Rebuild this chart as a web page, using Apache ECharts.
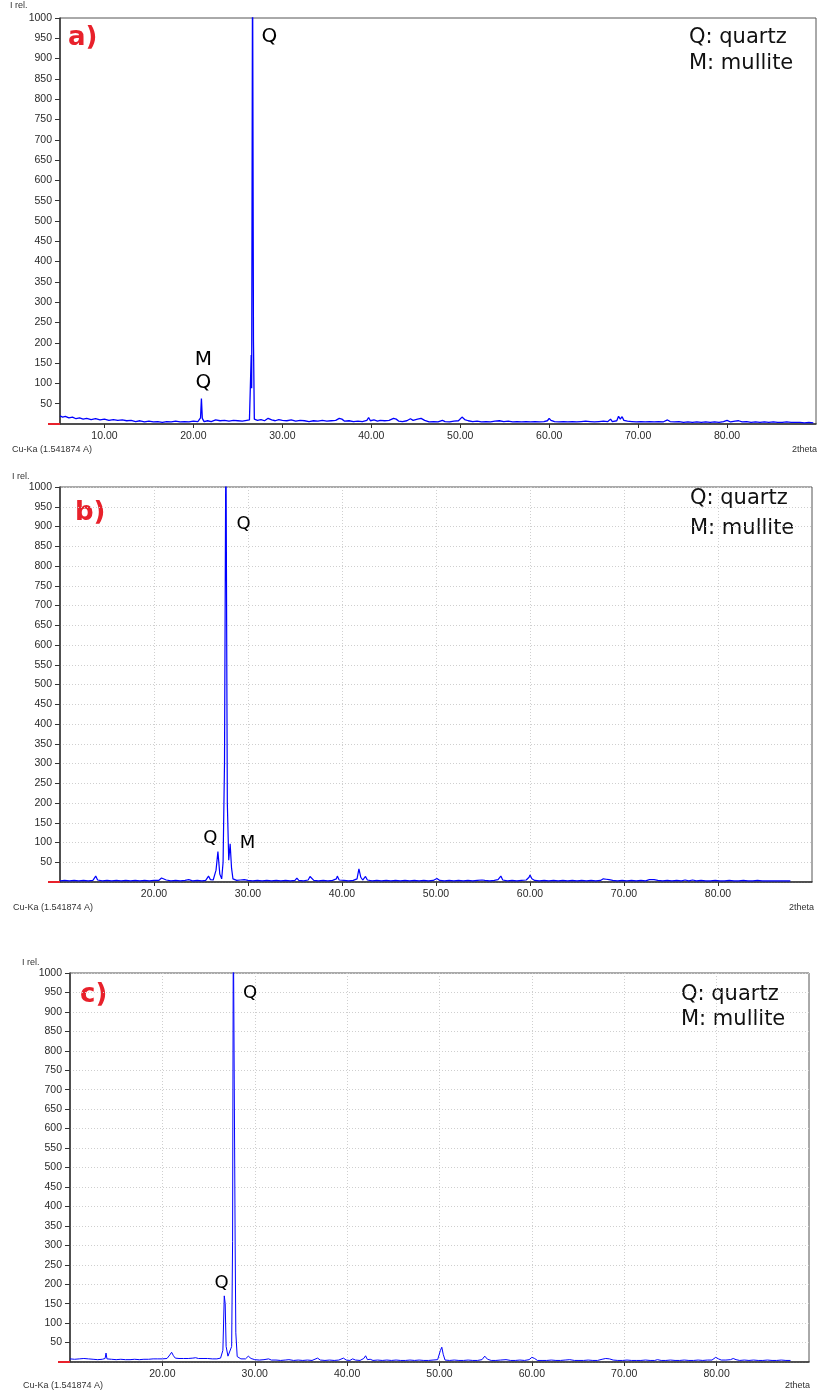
<!DOCTYPE html>
<html><head><meta charset="utf-8">
<script src="https://cdn.jsdelivr.net/npm/echarts@6/dist/echarts.min.js"></script>
<style>html,body{margin:0;padding:0;background:#fff}#c{width:817px;height:1392px}</style>
</head><body><div id="c"></div>
<script>
// ---- data (2theta, intensity) ----
const patternA = [[5.0,20],[5.3,17],[5.6,19],[6.0,15],[6.4,17],[6.8,13],[7.2,15],[7.6,12],[8.0,14],[8.5,11],[9.0,13],[9.5,10],[10.0,12],[10.5,9],[11.0,11],[11.5,9],[12.0,10],[12.5,8],[13.0,9],[13.5,6],[14.0,8],[14.5,5],[15.0,7],[15.5,5],[16.0,6],[16.5,4],[17.0,6],[17.5,5],[18.0,7],[18.5,5],[19.0,6],[19.5,5],[20.0,7],[20.5,6],[20.8,15],[20.9,63],[21.0,14],[21.2,6],[21.6,8],[22.0,6],[22.5,10],[23.0,8],[23.5,9],[24.0,7],[24.5,9],[25.0,8],[25.5,7],[26.0,9],[26.3,10],[26.45,12],[26.5,170],[26.55,88],[26.65,1150],[26.75,205],[26.85,12],[27.2,9],[27.6,11],[28.0,8],[28.4,14],[28.8,10],[29.2,8],[29.6,11],[30.0,9],[30.5,8],[31.0,10],[31.5,7],[32.0,9],[32.5,8],[33.0,6],[33.5,8],[34.0,7],[34.5,9],[35.0,7],[35.5,8],[36.0,9],[36.4,14],[36.7,12],[37.0,7],[37.5,8],[38.0,6],[38.5,7],[39.0,6],[39.5,9],[39.7,16],[39.9,8],[40.3,10],[40.7,7],[41.0,9],[41.5,8],[42.0,9],[42.5,14],[42.8,12],[43.1,7],[43.5,6],[44.0,8],[44.4,13],[44.7,9],[45.2,12],[45.6,14],[46.0,9],[46.5,5],[47.0,6],[47.5,5],[48.0,9],[48.3,6],[48.8,5],[49.3,7],[49.8,8],[50.2,17],[50.5,11],[50.9,8],[51.4,6],[51.9,7],[52.4,5],[52.9,6],[53.4,5],[53.9,7],[54.4,8],[54.9,6],[55.4,7],[55.9,5],[56.4,6],[56.9,5],[57.4,6],[57.9,5],[58.4,6],[58.9,5],[59.4,6],[59.8,8],[60.0,14],[60.2,9],[60.6,6],[61.1,5],[61.6,6],[62.1,5],[62.6,6],[63.1,5],[63.6,6],[64.1,7],[64.6,6],[65.1,5],[65.6,6],[66.1,7],[66.6,6],[66.9,12],[67.1,6],[67.6,8],[67.8,19],[68.0,12],[68.2,18],[68.4,9],[68.8,7],[69.3,6],[69.8,5],[70.3,6],[70.8,5],[71.3,6],[71.8,5],[72.3,6],[72.8,5],[73.3,10],[73.6,6],[74.1,5],[74.6,6],[75.1,4],[75.6,5],[76.1,4],[76.6,5],[77.1,4],[77.6,5],[78.1,4],[78.6,5],[79.1,4],[79.6,6],[80.0,9],[80.4,5],[80.9,7],[81.3,8],[81.7,5],[82.2,6],[82.7,4],[83.2,5],[83.7,4],[84.2,5],[84.7,4],[85.2,5],[85.7,4],[86.2,4],[86.7,5],[87.2,4],[87.7,4],[88.2,4],[88.7,3],[89.2,4],[89.7,3]];

const patternB = [[10.0,3],[10.5,4],[11.0,3],[11.5,4],[12.0,3],[12.5,4],[13.0,3],[13.5,4],[13.8,15],[14.0,5],[14.5,3],[15.0,4],[15.5,3],[16.0,4],[16.5,3],[17.0,4],[17.5,3],[18.0,4],[18.5,3],[19.0,4],[19.5,3],[20.0,4],[20.5,4],[20.8,10],[21.0,12],[21.3,5],[21.8,3],[22.3,4],[22.8,3],[23.3,4],[23.7,6],[24.1,3],[24.6,4],[25.1,3],[25.5,4],[25.8,15],[26.0,6],[26.3,5],[26.6,30],[26.8,77],[27.0,20],[27.2,8],[27.35,50],[27.5,300],[27.65,1150],[27.8,200],[27.95,55],[28.1,97],[28.25,35],[28.4,8],[28.8,4],[29.2,5],[29.6,6],[30.0,4],[30.5,3],[31.0,4],[31.5,3],[32.0,4],[32.5,3],[33.0,4],[33.5,3],[34.0,4],[34.5,3],[35.0,4],[35.2,10],[35.4,4],[35.9,3],[36.4,5],[36.6,14],[36.8,13],[37.0,4],[37.5,3],[38.0,4],[38.5,3],[39.0,4],[39.4,8],[39.5,15],[39.7,5],[40.2,4],[40.4,6],[40.7,3],[41.2,4],[41.6,8],[41.8,33],[42.0,12],[42.2,5],[42.5,14],[42.7,5],[43.2,3],[43.7,4],[44.2,3],[44.7,4],[45.2,3],[45.7,4],[46.2,3],[46.7,4],[47.2,3],[47.7,4],[48.2,3],[48.7,4],[49.2,3],[49.7,4],[50.1,9],[50.4,4],[50.9,3],[51.4,4],[51.9,3],[52.4,4],[52.9,3],[53.4,4],[53.9,3],[54.4,4],[54.9,5],[55.2,4],[55.7,3],[56.2,4],[56.6,6],[56.9,15],[57.1,5],[57.6,3],[58.1,4],[58.6,3],[59.1,4],[59.6,5],[59.9,12],[60.0,18],[60.2,8],[60.5,4],[61.0,3],[61.5,4],[62.0,3],[62.5,4],[63.0,3],[63.5,4],[64.0,3],[64.5,4],[65.0,3],[65.5,4],[66.0,3],[66.5,4],[67.0,3],[67.5,4],[67.8,8],[68.1,7],[68.4,6],[68.8,4],[69.3,3],[69.8,4],[70.3,3],[70.8,4],[71.3,3],[71.8,4],[72.3,3],[72.7,6],[72.9,10],[73.2,6],[73.6,4],[74.1,3],[74.6,4],[75.1,3],[75.6,4],[76.1,3],[76.5,5],[76.9,3],[77.3,5],[77.7,3],[78.2,4],[78.7,3],[79.2,3],[79.7,4],[80.2,3],[80.7,3],[81.2,4],[81.7,3],[82.2,3],[82.7,4],[83.2,3],[83.7,3],[84.2,4],[84.7,3],[85.2,3],[85.7,3],[86.2,3],[86.7,3],[87.2,3],[87.7,3]];

const patternC = [[10.0,8],[10.5,7],[11.0,8],[11.5,9],[11.7,12],[12.0,8],[12.5,7],[13.0,6],[13.5,7],[13.8,9],[13.9,23],[14.0,8],[14.5,7],[15.0,6],[15.5,7],[16.0,6],[16.5,6],[17.0,7],[17.5,6],[18.0,7],[18.5,7],[19.0,8],[19.5,8],[20.0,8],[20.5,9],[20.8,18],[21.0,25],[21.2,16],[21.4,10],[21.8,9],[22.3,9],[22.8,9],[23.3,10],[23.6,11],[23.9,9],[24.4,9],[24.9,9],[25.4,8],[25.9,8],[26.3,10],[26.55,30],[26.7,170],[26.8,150],[26.9,40],[27.1,15],[27.3,13],[27.5,40],[27.6,310],[27.68,1150],[27.78,725],[27.88,300],[27.95,75],[28.1,14],[28.5,8],[29.0,8],[29.3,15],[29.6,9],[30.0,6],[30.5,5],[31.0,6],[31.5,8],[31.8,5],[32.3,5],[32.8,4],[33.3,5],[33.7,6],[34.2,4],[34.7,5],[35.2,4],[35.7,5],[36.2,4],[36.8,10],[37.1,5],[37.6,4],[38.1,5],[38.6,4],[39.1,5],[39.6,10],[39.9,5],[40.3,4],[40.6,8],[40.9,5],[41.4,4],[41.8,9],[42.0,16],[42.2,6],[42.5,7],[42.8,4],[43.3,5],[43.8,4],[44.3,5],[44.8,4],[45.3,5],[45.8,4],[46.3,4],[46.8,5],[47.3,4],[47.8,5],[48.3,4],[48.8,4],[49.3,5],[49.8,6],[50.1,30],[50.25,38],[50.4,20],[50.6,5],[51.1,4],[51.6,5],[52.1,4],[52.6,4],[53.1,5],[53.6,4],[54.1,4],[54.6,6],[54.9,15],[55.2,7],[55.6,4],[56.1,4],[56.6,5],[57.2,6],[57.7,4],[58.2,4],[58.7,5],[59.2,4],[59.7,6],[60.0,12],[60.3,9],[60.6,4],[61.1,4],[61.6,4],[62.1,5],[62.6,4],[63.1,4],[63.6,5],[64.1,6],[64.6,4],[65.1,4],[65.6,4],[66.1,5],[66.6,4],[67.1,4],[67.6,7],[68.0,9],[68.4,8],[68.8,5],[69.3,4],[69.8,4],[70.3,5],[70.8,4],[71.3,4],[71.8,4],[72.3,5],[72.8,4],[73.3,4],[73.6,6],[74.0,4],[74.5,4],[75.0,5],[75.5,4],[76.0,4],[76.5,5],[77.0,4],[77.5,4],[78.0,5],[78.5,4],[79.0,5],[79.5,5],[79.9,12],[80.2,8],[80.5,5],[81.0,5],[81.5,6],[81.8,9],[82.1,6],[82.5,4],[83.0,5],[83.5,4],[84.0,5],[84.5,4],[85.0,4],[85.5,5],[86.0,4],[86.5,4],[87.0,5],[87.5,4],[88.0,4]];

// peak labels: [text, 2theta, intensity]
const peakLabelsA = [['Q',28.54,953],['M',21.12,158],['Q',21.12,101]];
const peakLabelsB = [['Q',29.53,906],['Q',26.0,111],['M',29.96,99]];
const peakLabelsC = [['Q',29.5,949],['Q',26.4,203]];

const xTicksA = [10,20,30,40,50,60,70,80];
const xTicksBC = [20,30,40,50,60,70,80];
const panelNames = ['a)','b)','c)'];
const legendLines = ['Q: quartz','M: mullite'];

// ---- layout ----
const grids = [
  {left:60, top:18, width:756, height:406},
  {left:60, top:487, width:752, height:395},
  {left:70, top:973, width:739, height:389}
];
const xRanges = [[5,90],[10,90],[10,90]];
const gridOn = [false,true,true];
const lineW = [1.3,1.2,1];
const patterns = [patternA,patternB,patternC];
const peaks = [peakLabelsA,peakLabelsB,peakLabelsC];
const xTicks = [xTicksA,xTicksBC,xTicksBC];

const axisFont = {fontFamily:'Liberation Sans, Arial, sans-serif', fontSize:10.5, color:'#2a2a2a'};
const dotted = {show:true, lineStyle:{color:'#cfcfcf', type:[1,2], width:1}};

const option = {animation:false, grid:[], xAxis:[], yAxis:[], series:[], graphic:[]};
grids.forEach((g,i)=>{
  option.grid.push(Object.assign({show:true, borderColor:'#555', borderWidth:1, backgroundColor:'transparent'}, g));
  option.xAxis.push({
    type:'value', gridIndex:i, min:xRanges[i][0], max:xRanges[i][1],
    axisLine:{show:true, onZero:false, lineStyle:{color:'#333', width:1.5}},
    axisTick:{show:true, length:4, customValues:xTicks[i], lineStyle:{color:'#333'}},
    axisLabel:Object.assign({customValues:xTicks[i], margin:7, formatter:v=>v.toFixed(2)}, axisFont),
    splitLine: gridOn[i] ? Object.assign({}, dotted) : {show:false},
    interval: gridOn[i] ? 10 : undefined
  });
  option.yAxis.push({
    type:'value', gridIndex:i, min:0, max:1000, interval:50,
    axisLine:{show:true, lineStyle:{color:'#333', width:1.5}},
    axisTick:{show:true, length:5, lineStyle:{color:'#333'}},
    axisLabel:Object.assign({showMinLabel:false, margin:8, formatter:v=>String(v)}, axisFont),
    splitLine: gridOn[i] ? Object.assign({}, dotted) : {show:false}
  });
  // red origin marker
  option.yAxis.push({
    type:'value', gridIndex:i, min:0, max:1000, position:'left',
    axisLine:{show:false}, axisLabel:{show:false}, splitLine:{show:false},
    axisTick:{show:true, length:12, customValues:[0], lineStyle:{color:'#e8212b', width:2}}
  });
  option.series.push({
    type:'line', xAxisIndex:i, yAxisIndex:2*i, data:patterns[i], showSymbol:false,
    clip:true, lineStyle:{color:'#0000ff', width:lineW[i]}, silent:true
  });
  option.series.push({
    type:'scatter', xAxisIndex:i, yAxisIndex:2*i, symbol:'circle', symbolSize:2, silent:true,
    itemStyle:{color:'#ffffff', opacity:1},
    data:peaks[i].map(p=>({value:[p[1],p[2]], name:p[0]})),
    label:{show:true, position:'inside', formatter:p=>p.name, color:'#000', opacity:1,
      textBorderWidth:0,
      fontFamily:'DejaVu Sans, Verdana, sans-serif', fontSize: i===0?20:18}
  });
});

const small = {fontFamily:'Liberation Sans, Arial, sans-serif', fontSize:9, fill:'#333'};
const irel = [[10,6],[12,477],[22,963]];
const cuka = [[12,450],[13,908],[23,1386]];
const theta = [[817,450],[814,908],[810,1386]];
const pname = [[68,40],[75,515],[80,997]];
const leg = [[689,39,65],[690,500,530],[681,996,1021]];
for(let i=0;i<3;i++){
  option.graphic.push({type:'text', left:irel[i][0], top:irel[i][1]-5, style:Object.assign({text:'I rel.'}, small)});
  option.graphic.push({type:'text', left:cuka[i][0], top:cuka[i][1]-5, style:Object.assign({text:'Cu-Ka (1.541874 A)'}, small)});
  option.graphic.push({type:'text', right:817-theta[i][0], top:theta[i][1]-5, style:Object.assign({text:'2theta'}, small)});
  option.graphic.push({type:'text', left:pname[i][0], top:pname[i][1]-15, style:{text:panelNames[i], fill:'#e8212b', font:'bold 26px "DejaVu Sans", Verdana, sans-serif'}});
  option.graphic.push({type:'text', left:leg[i][0], top:leg[i][1]-12, style:{text:legendLines[0], fill:'#111', font:'21px "DejaVu Sans", Verdana, sans-serif'}});
  option.graphic.push({type:'text', left:leg[i][0], top:leg[i][2]-12, style:{text:legendLines[1], fill:'#111', font:'21px "DejaVu Sans", Verdana, sans-serif'}});
}

const chart = echarts.init(document.getElementById('c'), null, {renderer:'canvas'});
chart.setOption(option);
</script></body></html>
